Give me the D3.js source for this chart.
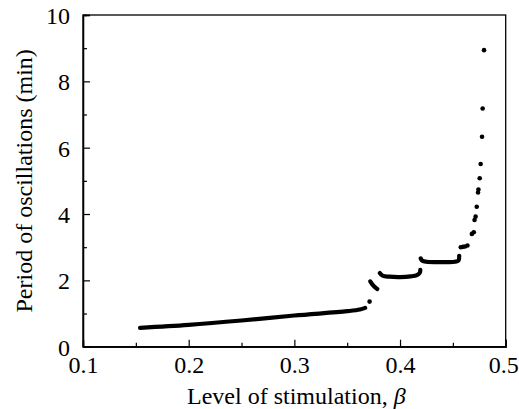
<!DOCTYPE html>
<html>
<head>
<meta charset="utf-8">
<script src="https://cdn.jsdelivr.net/npm/d3@7"></script>
<style>
  html, body { margin: 0; padding: 0; background: #fff; }
  svg { display: block; }
  text { font-family: "Liberation Serif", "Times New Roman", serif; fill: #000; }
</style>
</head>
<body>
<svg id="chart" width="519" height="409"></svg>
<script>
// Period of oscillations versus stimulation level.
// Dense solution branches (drawn as continuous thick traces).
const branchLow = [[0.154,0.57],[0.20,0.66],[0.25,0.79],[0.30,0.94],[0.35,1.07],[0.362,1.12],[0.367,1.17]];
const branchDip = [[0.3718,1.97],[0.374,1.87],[0.3765,1.79],[0.3785,1.74]];
const branchMid = [[0.3808,2.22],[0.3835,2.14],[0.39,2.11],[0.40,2.10],[0.41,2.12],[0.416,2.16],[0.4188,2.24],[0.4192,2.32]];
const branchHigh = [[0.4196,2.66],[0.4212,2.59],[0.425,2.56],[0.435,2.55],[0.445,2.55],[0.452,2.56],[0.4553,2.60],[0.456,2.74]];
// Isolated computed points.
const betaDots   = [0.3712, 0.4575, 0.4595, 0.4615, 0.4638, 0.468, 0.4698, 0.4705, 0.4715, 0.4726, 0.4738, 0.4742, 0.4754, 0.4763, 0.4776, 0.4782, 0.4795];
const periodDots = [1.36,   3.00,   3.01,   3.02,   3.05,   3.40,  3.45,   3.82,   3.92,   4.22,   4.65,   4.74,   5.08,   5.51,   6.33,   7.18,   8.94];

const xTicks = [0.1, 0.2, 0.3, 0.4, 0.5];
const xMinorTicks = [0.15, 0.25, 0.35, 0.45];
const yTicks = [0, 2, 4, 6, 8, 10];
const yMinorTicks = [1, 3, 5, 7, 9];

const FONT = 24;
const svg = d3.select("#chart");
const margin = { left: 83, top: 15, right: 13.3, bottom: 62.3 };
const W = 519, H = 409;

const x = d3.scaleLinear().domain([0.1, 0.5]).range([margin.left, W - margin.right]);
const y = d3.scaleLinear().domain([0, 10]).range([H - margin.bottom, margin.top]);

// Frame
svg.append("rect")
  .attr("x", x(0.1)).attr("y", y(10))
  .attr("width", x(0.5) - x(0.1)).attr("height", y(0) - y(10))
  .attr("fill", "none").attr("stroke", "#000").attr("stroke-width", 1.3);

// Axes with inward ticks
const xAxis = svg.append("g").attr("transform", `translate(0,${y(0)})`)
  .call(d3.axisBottom(x).tickValues(xTicks).tickSize(-7).tickFormat(d3.format(".1f")));
svg.append("g").attr("transform", `translate(0,${y(0)})`)
  .call(d3.axisBottom(x).tickValues(xMinorTicks).tickSize(-4).tickFormat(""));
const yAxis = svg.append("g").attr("transform", `translate(${x(0.1)},0)`)
  .call(d3.axisLeft(y).tickValues(yTicks).tickSize(-7).tickFormat(d3.format("d")));
svg.append("g").attr("transform", `translate(${x(0.1)},0)`)
  .call(d3.axisLeft(y).tickValues(yMinorTicks).tickSize(-4).tickFormat(""));

svg.selectAll(".domain").attr("stroke", "#000").attr("stroke-width", 1.3);
svg.selectAll(".tick line").attr("stroke", "#000").attr("stroke-width", 1.2);

// Last x label kept inside the canvas edge
xAxis.selectAll("text")
  .attr("font-size", FONT).attr("font-family", "Liberation Serif")
  .attr("y", 0).attr("dy", null)
  .attr("transform", d => `translate(${d === 0.5 ? -2.5 : 0},26.5)`);
yAxis.selectAll("text")
  .attr("font-size", FONT).attr("font-family", "Liberation Serif")
  .attr("x", -13).attr("dy", "0.35em");

// Axis titles
svg.append("text")
  .attr("x", (x(0.1) + x(0.5)) / 2 + 2).attr("y", 404)
  .attr("text-anchor", "middle").attr("font-size", FONT)
  .html('Level of stimulation, <tspan font-style="italic">β</tspan>');
svg.append("text")
  .attr("transform", `translate(31.5,${(y(0) + y(10)) / 2}) rotate(-90)`)
  .attr("text-anchor", "middle").attr("font-size", FONT)
  .text("Period of oscillations (min)");

// Data: branches as thick traces, isolated points as dots
const trace = d3.line().x(d => x(d[0])).y(d => y(d[1])).curve(d3.curveCatmullRom);
[branchLow, branchDip, branchMid, branchHigh].forEach(b => {
  svg.append("path").datum(b)
    .attr("d", trace)
    .attr("fill", "none").attr("stroke", "#000")
    .attr("stroke-width", 4.2).attr("stroke-linecap", "round").attr("stroke-linejoin", "round");
});
svg.append("g").selectAll("circle")
  .data(betaDots.map((b, i) => [b, periodDots[i]]))
  .join("circle")
  .attr("cx", d => x(d[0])).attr("cy", d => y(d[1])).attr("r", 2.3).attr("fill", "#000");
</script>
</body>
</html>
